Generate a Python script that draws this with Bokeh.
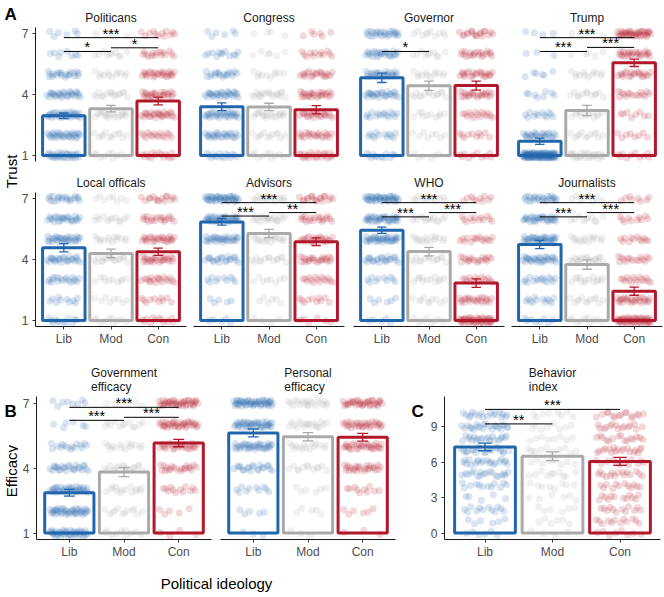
import numpy as np
from bokeh.plotting import figure
from bokeh.layouts import row, column
from bokeh.models import Range1d, FixedTicker, ColumnDataSource
from bokeh.embed import file_html
from bokeh.resources import INLINE
from bokeh.core.properties import value

FONT = "Liberation Sans"

# ---------------- data ----------------
categories = ["Lib", "Mod", "Con"]
group_colors = ["#2166AC", "#AAAAAA", "#B2182B"]
likert_levels = [1, 2, 3, 4, 5, 6, 7]
likert_ticks = [1, 4, 7]
behavior_levels = [0, 1, 2, 3, 4, 5, 6, 7, 8, 9, 10]
behavior_ticks = [0, 3, 6, 9]

politicians_mean = [2.95, 3.30, 3.68]
politicians_se = [0.14, 0.16, 0.19]
politicians_counts = {"Lib": [30, 30, 30, 28, 20, 8, 6], "Mod": [10, 12, 18, 15, 12, 10, 3], "Con": [15, 15, 25, 25, 25, 15, 12]}
politicians_sig_pairs = [(1, 3), (1, 2), (2, 3)]
politicians_sig_labels = ["***", "*", "*"]
politicians_sig_y = [6.80, 6.12, 6.30]

congress_mean = [3.40, 3.39, 3.25]
congress_se = [0.19, 0.18, 0.20]
congress_counts = {"Lib": [15, 25, 30, 28, 18, 12, 6], "Mod": [10, 12, 18, 18, 10, 6, 4], "Con": [22, 20, 22, 25, 20, 12, 6]}

governor_mean = [4.82, 4.43, 4.44]
governor_se = [0.23, 0.23, 0.22]
governor_counts = {"Lib": [12, 12, 15, 25, 25, 25, 25], "Mod": [6, 8, 10, 14, 12, 10, 10], "Con": [10, 10, 15, 22, 22, 20, 18]}
governor_sig_pairs = [(1, 2)]
governor_sig_labels = ["*"]
governor_sig_y = [6.12]

trump_mean = [1.70, 3.21, 5.56]
trump_se = [0.155, 0.25, 0.18]
trump_counts = {"Lib": [100, 25, 12, 8, 6, 3, 4], "Mod": [25, 12, 12, 12, 12, 5, 5], "Con": [10, 8, 8, 15, 20, 25, 40]}
trump_sig_pairs = [(1, 3), (1, 2), (2, 3)]
trump_sig_labels = ["***", "***", "***"]
trump_sig_y = [6.80, 6.12, 6.32]

local_mean = [4.58, 4.30, 4.38]
local_se = [0.20, 0.21, 0.18]
local_counts = {"Lib": [12, 10, 18, 25, 30, 25, 20], "Mod": [10, 8, 10, 16, 14, 12, 8], "Con": [12, 10, 18, 25, 25, 18, 15]}

advisors_mean = [5.85, 5.28, 4.88]
advisors_se = [0.16, 0.20, 0.19]
advisors_counts = {"Lib": [5, 5, 10, 20, 30, 35, 40], "Mod": [4, 6, 8, 14, 16, 18, 15], "Con": [6, 10, 15, 22, 20, 18, 18]}
advisors_sig_pairs = [(1, 3), (1, 2), (2, 3)]
advisors_sig_labels = ["***", "***", "**"]
advisors_sig_y = [6.80, 6.14, 6.31]

who_mean = [5.44, 4.39, 2.84]
who_se = [0.15, 0.21, 0.21]
who_counts = {"Lib": [5, 6, 10, 22, 35, 35, 40], "Mod": [8, 10, 12, 14, 15, 14, 12], "Con": [45, 22, 15, 18, 15, 12, 10]}
who_sig_pairs = [(1, 3), (1, 2), (2, 3)]
who_sig_labels = ["***", "***", "***"]
who_sig_y = [6.80, 6.10, 6.31]

journalists_mean = [4.74, 3.75, 2.44]
journalists_se = [0.20, 0.23, 0.20]
journalists_counts = {"Lib": [8, 12, 15, 30, 35, 30, 25], "Mod": [10, 12, 14, 18, 15, 10, 8], "Con": [50, 25, 15, 15, 12, 10, 8]}
journalists_sig_pairs = [(1, 3), (1, 2), (2, 3)]
journalists_sig_labels = ["***", "***", "***"]
journalists_sig_y = [6.80, 6.10, 6.31]

gov_eff_mean = [2.86, 3.81, 5.15]
gov_eff_se = [0.155, 0.21, 0.17]
gov_eff_counts = {"Lib": [40, 40, 35, 25, 15, 6, 8], "Mod": [10, 12, 14, 16, 14, 12, 6], "Con": [4, 5, 12, 20, 25, 35, 40]}
gov_eff_sig_pairs = [(1, 3), (1, 2), (2, 3)]
gov_eff_sig_labels = ["***", "***", "***"]
gov_eff_sig_y = [6.80, 6.20, 6.34]

pers_eff_mean = [5.62, 5.44, 5.42]
pers_eff_se = [0.18, 0.19, 0.18]
pers_eff_counts = {"Lib": [3, 5, 10, 20, 35, 40, 50], "Mod": [3, 5, 6, 12, 15, 18, 20], "Con": [3, 6, 10, 25, 30, 30, 35]}

behavior_mean = [7.28, 6.49, 6.06]
behavior_se = [0.32, 0.37, 0.34]
behavior_counts = {"Lib": [6, 6, 12, 5, 12, 18, 20, 20, 20, 22, 18], "Mod": [4, 6, 6, 6, 8, 10, 8, 10, 8, 8, 8], "Con": [8, 12, 12, 12, 12, 15, 12, 18, 15, 15, 15]}
behavior_sig_pairs = [(1, 3), (1, 2)]
behavior_sig_labels = ["***", "**"]
behavior_sig_y = [10.46, 9.23]

# ---------------- helpers ----------------
def style_axis(ax):
    ax.axis_line_color = "#1A1A1A"
    ax.axis_line_width = 1
    ax.major_tick_line_color = "#333333"
    ax.major_tick_out = 3
    ax.major_tick_in = 0
    ax.minor_tick_line_color = None
    ax.major_label_text_font = FONT
    ax.major_label_text_font_size = "12px"
    ax.major_label_text_color = "#4D4D4D"
    ax.major_label_standoff = 3


def vdc(n, base):
    """van der Corput radical inverse (deterministic Halton jitter layout)."""
    v, denom = 0.0, 1.0
    while n:
        n, r = divmod(n, base)
        denom *= base
        v += r / denom
    return v


def jitter_source(levels, counts, jy):
    xs, ys, cs = [], [], []
    for gi, cat in enumerate(categories):
        for li, (lev, n) in enumerate(zip(levels, counts[cat])):
            start = 1 + 17 * li + 7 * gi
            for k in range(n):
                u = vdc(start + k, 2)
                v = vdc(start + k, 3)
                xs.append(gi + 1 + (u - 0.5) * 0.72)
                ys.append(lev + (v - 0.5) * 2 * jy)
                cs.append(group_colors[gi])
    return ColumnDataSource(dict(x=xs, y=ys, c=cs))


def make_panel(title, means, ses, counts, levels, y_range, ticks, base, jy,
               fw, fh, bl, br, bt, bb, show_y, show_x,
               sig_pairs=(), sig_labels=(), sig_y=()):
    p = figure(frame_width=fw, frame_height=fh, min_border_left=bl, min_border_right=br,
               min_border_top=bt, min_border_bottom=bb,
               x_range=Range1d(0.4, 3.6), y_range=Range1d(*y_range),
               toolbar_location=None, output_backend="svg", title=title)
    p.outline_line_color = None
    p.grid.visible = False
    p.background_fill_color = "white"
    p.border_fill_color = "white"
    p.title.text_font = FONT
    p.title.text_font_size = "12px"
    p.title.text_font_style = "normal"
    p.title.text_color = "#1A1A1A"
    p.title.align = "center"
    p.title.standoff = 6
    for ax in p.xaxis + p.yaxis:
        style_axis(ax)
    p.xaxis.major_label_standoff = 2
    p.yaxis.major_label_standoff = 4
    p.xaxis.ticker = FixedTicker(ticks=[1, 2, 3])
    p.xaxis.major_label_overrides = {1: categories[0], 2: categories[1], 3: categories[2]}
    p.yaxis.ticker = FixedTicker(ticks=ticks)
    p.xaxis.visible = show_x
    p.yaxis.visible = show_y

    src = jitter_source(levels, counts, jy)
    p.scatter("x", "y", source=src, size=7, fill_color="c", fill_alpha=0.17, line_color=None)

    xs = [1, 2, 3]
    lo = [m - s for m, s in zip(means, ses)]
    hi = [m + s for m, s in zip(means, ses)]
    p.quad(left=[x - 0.45 for x in xs], right=[x + 0.45 for x in xs],
           bottom=[base] * 3, top=means, fill_alpha=0, fill_color=None,
           line_color=group_colors, line_width=3)
    p.segment(x0=xs, y0=lo, x1=xs, y1=hi, line_color=group_colors, line_width=1.3)
    p.segment(x0=[x - 0.1 for x in xs], y0=lo, x1=[x + 0.1 for x in xs], y1=lo,
              line_color=group_colors, line_width=1.3)
    p.segment(x0=[x - 0.1 for x in xs], y0=hi, x1=[x + 0.1 for x in xs], y1=hi,
              line_color=group_colors, line_width=1.3)

    if sig_pairs:
        x0 = [a for a, b in sig_pairs]
        x1 = [b for a, b in sig_pairs]
        p.segment(x0=x0, y0=list(sig_y), x1=x1, y1=list(sig_y), line_color="black", line_width=1)
        p.text(x=[(a + b) / 2 for a, b in sig_pairs], y=list(sig_y), text=list(sig_labels),
               text_font=value(FONT), text_font_size="14.5px", text_color="black",
               text_align="center", text_baseline="alphabetic", y_offset=-4)
    return p


def strip(w, h):
    s = figure(width=w, height=h, x_range=Range1d(0, w), y_range=Range1d(0, h),
               min_border=0, toolbar_location=None, output_backend="svg")
    s.axis.visible = False
    s.grid.visible = False
    s.outline_line_color = None
    return s


LIK = (0.7, 7.3)
FW, FH = 151, 134

r1 = [
    make_panel("Politicans", politicians_mean, politicians_se, politicians_counts, likert_levels, LIK, likert_ticks, 1, 0.15,
               FW, FH, 17, 3, 27, 9, True, False, politicians_sig_pairs, politicians_sig_labels, politicians_sig_y),
    make_panel("Congress", congress_mean, congress_se, congress_counts, likert_levels, LIK, likert_ticks, 1, 0.15,
               FW, FH, 4, 3, 27, 9, False, False),
    make_panel("Governor", governor_mean, governor_se, governor_counts, likert_levels, LIK, likert_ticks, 1, 0.15,
               FW, FH, 6, 3, 27, 9, False, False, governor_sig_pairs, governor_sig_labels, governor_sig_y),
    make_panel("Trump", trump_mean, trump_se, trump_counts, likert_levels, LIK, likert_ticks, 1, 0.15,
               FW, FH, 4, 1, 27, 9, False, False, trump_sig_pairs, trump_sig_labels, trump_sig_y),
]
r2 = [
    make_panel("Local officals", local_mean, local_se, local_counts, likert_levels, LIK, likert_ticks, 1, 0.15,
               FW, FH, 17, 3, 22, 28, True, True),
    make_panel("Advisors", advisors_mean, advisors_se, advisors_counts, likert_levels, LIK, likert_ticks, 1, 0.15,
               FW, FH, 4, 3, 22, 28, False, True, advisors_sig_pairs, advisors_sig_labels, advisors_sig_y),
    make_panel("WHO", who_mean, who_se, who_counts, likert_levels, LIK, likert_ticks, 1, 0.15,
               FW, FH, 6, 3, 22, 28, False, True, who_sig_pairs, who_sig_labels, who_sig_y),
    make_panel("Journalists", journalists_mean, journalists_se, journalists_counts, likert_levels, LIK, likert_ticks, 1, 0.15,
               FW, FH, 4, 1, 22, 28, False, True, journalists_sig_pairs, journalists_sig_labels, journalists_sig_y),
]

stripA = strip(18, 354)
stripA.text(x=[4], y=[350], text=["A"], text_font=value(FONT), text_font_size="17px",
            text_font_style="bold", text_align="left", text_baseline="top", text_color="black")
stripA.text(x=[10.5], y=[183], text=["Trust"], angle=np.pi / 2, text_font=value(FONT),
            text_font_size="15px", text_align="center", text_baseline="middle", text_color="black")

top = row(stripA, column(row(*r1), row(*r2)))

BH = 143
b1 = make_panel("Government\nefficacy", gov_eff_mean, gov_eff_se, gov_eff_counts, likert_levels, LIK, likert_ticks, 1, 0.15,
                175, BH, 18, 4, 42, 24, True, True, gov_eff_sig_pairs, gov_eff_sig_labels, gov_eff_sig_y)
b2 = make_panel("Personal\nefficacy", pers_eff_mean, pers_eff_se, pers_eff_counts, likert_levels, LIK, likert_ticks, 1, 0.15,
                175, BH, 5, 5, 42, 24, False, True)
c1 = make_panel("Behavior\nindex", behavior_mean, behavior_se, behavior_counts, behavior_levels, (-0.55, 11.55), behavior_ticks, 0, 0.25,
                216, BH, 18, 3, 42, 24, True, True, behavior_sig_pairs, behavior_sig_labels, behavior_sig_y)

stripB = strip(18, 209)
stripB.text(x=[4], y=[201], text=["B"], text_font=value(FONT), text_font_size="17px",
            text_font_style="bold", text_align="left", text_baseline="top", text_color="black")
stripB.text(x=[10.5], y=[100], text=["Efficacy"], angle=np.pi / 2, text_font=value(FONT),
            text_font_size="15px", text_align="center", text_baseline="middle", text_color="black")

stripC = strip(26, 209)
stripC.text(x=[11], y=[201], text=["C"], text_font=value(FONT), text_font_size="17px",
            text_font_style="bold", text_align="left", text_baseline="top", text_color="black")

stripX = strip(663, 32)
stripX.text(x=[216], y=[12], text=["Political ideology"], text_font=value(FONT),
            text_font_size="15px", text_align="center", text_baseline="middle", text_color="black")

bottom = column(row(stripB, b1, b2, stripC, c1), stripX)
layout = column(top, bottom)

open("out.html", "w").write(file_html(layout, INLINE))
